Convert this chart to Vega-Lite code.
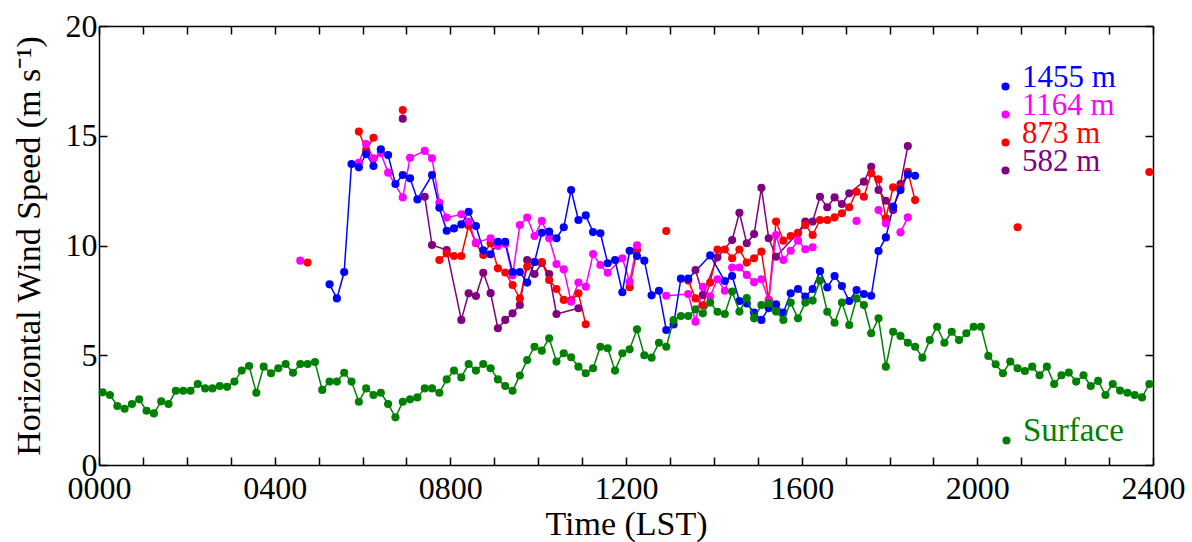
{
"$schema": "https://vega.github.io/schema/vega-lite/v6.json",
"width": 1054, "height": 439,
"autosize": {"type": "none"},
"padding": {"left": 99, "top": 26, "right": 39, "bottom": 77},
"config": {"font": "Liberation Serif", "view": {"stroke": null},
  "axis": {"grid": false, "domainColor": "black", "tickColor": "black", "domainWidth": 1.5, "tickWidth": 1.5, "labelColor": "black", "titleColor": "black", "labelFontSize": 32, "titleFontSize": 34, "titleFontWeight": "normal", "labelFlush": false, "labelOverlap": false, "tickSize": -8}},
"data": {"values": [
{"s":"582 m","t":6.917,"v":15.78,"g":1},
{"s":"582 m","t":7.417,"v":12.22,"g":2},{"s":"582 m","t":7.583,"v":10.02,"g":2},{"s":"582 m","t":7.917,"v":9.79,"g":2},{"s":"582 m","t":8.25,"v":6.61,"g":2},{"s":"582 m","t":8.417,"v":7.82,"g":2},{"s":"582 m","t":8.583,"v":7.70,"g":2},{"s":"582 m","t":8.75,"v":8.76,"g":2},{"s":"582 m","t":8.917,"v":7.83,"g":2},{"s":"582 m","t":9.083,"v":6.23,"g":2},{"s":"582 m","t":9.25,"v":6.61,"g":2},{"s":"582 m","t":9.417,"v":6.91,"g":2},{"s":"582 m","t":9.583,"v":7.29,"g":2},{"s":"582 m","t":9.75,"v":9.34,"g":2},{"s":"582 m","t":9.917,"v":8.70,"g":2},{"s":"582 m","t":10.083,"v":9.20,"g":2},{"s":"582 m","t":10.25,"v":8.70,"g":2},{"s":"582 m","t":10.417,"v":6.88,"g":2},{"s":"582 m","t":10.917,"v":7.14,"g":2},
{"s":"582 m","t":13.583,"v":8.88,"g":3},{"s":"582 m","t":13.75,"v":7.74,"g":3},{"s":"582 m","t":14.083,"v":9.46,"g":3},{"s":"582 m","t":14.417,"v":10.25,"g":3},{"s":"582 m","t":14.583,"v":11.49,"g":3},{"s":"582 m","t":14.75,"v":10.10,"g":3},{"s":"582 m","t":14.917,"v":10.52,"g":3},{"s":"582 m","t":15.083,"v":12.63,"g":3},{"s":"582 m","t":15.25,"v":10.33,"g":3},{"s":"582 m","t":15.417,"v":9.49,"g":3},{"s":"582 m","t":15.917,"v":10.58,"g":3},{"s":"582 m","t":16.083,"v":11.09,"g":3},{"s":"582 m","t":16.25,"v":11.09,"g":3},{"s":"582 m","t":16.417,"v":12.22,"g":3},{"s":"582 m","t":16.583,"v":11.74,"g":3},{"s":"582 m","t":16.75,"v":12.19,"g":3},{"s":"582 m","t":16.917,"v":11.89,"g":3},{"s":"582 m","t":17.083,"v":12.38,"g":3},{"s":"582 m","t":17.417,"v":12.91,"g":3},{"s":"582 m","t":17.583,"v":13.59,"g":3},{"s":"582 m","t":17.75,"v":12.53,"g":3},{"s":"582 m","t":17.917,"v":12.04,"g":3},{"s":"582 m","t":18.083,"v":11.62,"g":3},{"s":"582 m","t":18.25,"v":12.80,"g":3},{"s":"582 m","t":18.417,"v":14.53,"g":3},
{"s":"873 m","t":4.75,"v":9.22,"g":1},
{"s":"873 m","t":5.917,"v":15.19,"g":2},{"s":"873 m","t":6.083,"v":14.35,"g":2},{"s":"873 m","t":6.25,"v":14.91,"g":2},
{"s":"873 m","t":6.917,"v":16.17,"g":3},
{"s":"873 m","t":7.75,"v":9.34,"g":4},{"s":"873 m","t":7.917,"v":9.64,"g":4},{"s":"873 m","t":8.083,"v":9.52,"g":4},{"s":"873 m","t":8.25,"v":9.52,"g":4},{"s":"873 m","t":8.417,"v":10.9,"g":4},{"s":"873 m","t":8.583,"v":10.10,"g":4},{"s":"873 m","t":8.75,"v":9.57,"g":4},{"s":"873 m","t":8.917,"v":10.10,"g":4},{"s":"873 m","t":9.083,"v":8.96,"g":4},{"s":"873 m","t":9.25,"v":8.77,"g":4},{"s":"873 m","t":9.417,"v":8.20,"g":4},{"s":"873 m","t":9.583,"v":7.59,"g":4},{"s":"873 m","t":9.75,"v":9.04,"g":4},{"s":"873 m","t":9.917,"v":9.25,"g":4},{"s":"873 m","t":10.083,"v":9.25,"g":4},{"s":"873 m","t":10.25,"v":8.43,"g":4},{"s":"873 m","t":10.417,"v":8.02,"g":4},{"s":"873 m","t":10.583,"v":7.52,"g":4},{"s":"873 m","t":10.75,"v":7.50,"g":4},{"s":"873 m","t":10.917,"v":7.82,"g":4},{"s":"873 m","t":11.083,"v":6.41,"g":4},
{"s":"873 m","t":12.083,"v":8.10,"g":5},{"s":"873 m","t":12.25,"v":9.79,"g":5},
{"s":"873 m","t":12.917,"v":10.66,"g":6},
{"s":"873 m","t":13.417,"v":8.40,"g":7},{"s":"873 m","t":13.583,"v":7.59,"g":7},{"s":"873 m","t":13.75,"v":7.28,"g":7},{"s":"873 m","t":13.917,"v":8.31,"g":7},{"s":"873 m","t":14.083,"v":9.82,"g":7},{"s":"873 m","t":14.25,"v":9.82,"g":7},{"s":"873 m","t":14.417,"v":9.42,"g":7},{"s":"873 m","t":14.583,"v":9.82,"g":7},{"s":"873 m","t":14.75,"v":9.22,"g":7},{"s":"873 m","t":14.917,"v":9.42,"g":7},{"s":"873 m","t":15.083,"v":9.72,"g":7},{"s":"873 m","t":15.25,"v":7.52,"g":7},{"s":"873 m","t":15.417,"v":11.09,"g":7},{"s":"873 m","t":15.583,"v":10.22,"g":7},{"s":"873 m","t":15.75,"v":10.43,"g":7},{"s":"873 m","t":15.917,"v":10.56,"g":7},{"s":"873 m","t":16.083,"v":10.93,"g":7},{"s":"873 m","t":16.25,"v":10.48,"g":7},{"s":"873 m","t":16.417,"v":11.16,"g":7},{"s":"873 m","t":16.583,"v":11.16,"g":7},{"s":"873 m","t":16.75,"v":11.28,"g":7},{"s":"873 m","t":16.917,"v":11.47,"g":7},{"s":"873 m","t":17.083,"v":11.74,"g":7},{"s":"873 m","t":17.25,"v":12.45,"g":7},{"s":"873 m","t":17.417,"v":12.22,"g":7},{"s":"873 m","t":17.583,"v":13.29,"g":7},{"s":"873 m","t":17.75,"v":13.01,"g":7},{"s":"873 m","t":17.917,"v":11.24,"g":7},{"s":"873 m","t":18.083,"v":12.65,"g":7},{"s":"873 m","t":18.25,"v":12.65,"g":7},{"s":"873 m","t":18.417,"v":13.36,"g":7},{"s":"873 m","t":18.583,"v":12.07,"g":7},
{"s":"873 m","t":20.917,"v":10.83,"g":8},
{"s":"873 m","t":23.917,"v":13.35,"g":9},
{"s":"1164 m","t":4.583,"v":9.31,"g":1},
{"s":"1164 m","t":5.917,"v":13.77,"g":2},{"s":"1164 m","t":6.083,"v":14.62,"g":2},{"s":"1164 m","t":6.25,"v":13.97,"g":2},{"s":"1164 m","t":6.417,"v":14.2,"g":2},{"s":"1164 m","t":6.583,"v":13.32,"g":2},{"s":"1164 m","t":6.917,"v":12.19,"g":2},{"s":"1164 m","t":7.083,"v":14.0,"g":2},{"s":"1164 m","t":7.417,"v":14.31,"g":2},{"s":"1164 m","t":7.583,"v":13.97,"g":2},{"s":"1164 m","t":7.75,"v":11.95,"g":2},{"s":"1164 m","t":7.917,"v":11.27,"g":2},{"s":"1164 m","t":8.25,"v":11.42,"g":2},{"s":"1164 m","t":8.417,"v":11.09,"g":2},{"s":"1164 m","t":8.583,"v":10.13,"g":2},{"s":"1164 m","t":8.917,"v":10.33,"g":2},{"s":"1164 m","t":9.083,"v":9.98,"g":2},{"s":"1164 m","t":9.25,"v":10.07,"g":2},{"s":"1164 m","t":9.417,"v":8.64,"g":2},{"s":"1164 m","t":9.583,"v":10.93,"g":2},{"s":"1164 m","t":9.75,"v":11.27,"g":2},{"s":"1164 m","t":9.917,"v":10.43,"g":2},{"s":"1164 m","t":10.083,"v":11.12,"g":2},{"s":"1164 m","t":10.25,"v":10.33,"g":2},{"s":"1164 m","t":10.417,"v":9.16,"g":2},{"s":"1164 m","t":10.583,"v":8.91,"g":2},{"s":"1164 m","t":10.75,"v":7.44,"g":2},{"s":"1164 m","t":10.917,"v":8.31,"g":2},{"s":"1164 m","t":11.083,"v":8.12,"g":2},{"s":"1164 m","t":11.25,"v":9.61,"g":2},{"s":"1164 m","t":11.417,"v":9.11,"g":2},{"s":"1164 m","t":11.583,"v":8.76,"g":2},{"s":"1164 m","t":11.917,"v":9.42,"g":2},{"s":"1164 m","t":12.083,"v":8.35,"g":2},{"s":"1164 m","t":12.25,"v":10.01,"g":2},
{"s":"1164 m","t":12.917,"v":7.71,"g":3},{"s":"1164 m","t":13.417,"v":7.79,"g":3},{"s":"1164 m","t":13.583,"v":6.53,"g":3},{"s":"1164 m","t":13.75,"v":8.12,"g":3},{"s":"1164 m","t":13.917,"v":7.69,"g":3},{"s":"1164 m","t":14.083,"v":8.46,"g":3},{"s":"1164 m","t":14.25,"v":7.94,"g":3},{"s":"1164 m","t":14.417,"v":9.0,"g":3},{"s":"1164 m","t":14.583,"v":9.0,"g":3},{"s":"1164 m","t":14.75,"v":8.66,"g":3},{"s":"1164 m","t":14.917,"v":8.33,"g":3},{"s":"1164 m","t":15.083,"v":8.46,"g":3},{"s":"1164 m","t":15.25,"v":7.49,"g":3},{"s":"1164 m","t":15.417,"v":10.48,"g":3},{"s":"1164 m","t":15.583,"v":9.34,"g":3},{"s":"1164 m","t":15.75,"v":9.76,"g":3},{"s":"1164 m","t":15.917,"v":10.22,"g":3},{"s":"1164 m","t":16.083,"v":9.83,"g":3},{"s":"1164 m","t":16.25,"v":9.92,"g":3},
{"s":"1164 m","t":17.25,"v":11.12,"g":4},
{"s":"1164 m","t":17.75,"v":11.62,"g":5},{"s":"1164 m","t":17.917,"v":11.01,"g":5},
{"s":"1164 m","t":18.25,"v":10.6,"g":6},{"s":"1164 m","t":18.417,"v":11.28,"g":6},
{"s":"1455 m","t":5.25,"v":8.23,"g":1},{"s":"1455 m","t":5.417,"v":7.59,"g":1},{"s":"1455 m","t":5.583,"v":8.79,"g":1},{"s":"1455 m","t":5.75,"v":13.71,"g":1},{"s":"1455 m","t":5.917,"v":13.56,"g":1},{"s":"1455 m","t":6.083,"v":14.17,"g":1},{"s":"1455 m","t":6.25,"v":13.62,"g":1},{"s":"1455 m","t":6.417,"v":14.38,"g":1},{"s":"1455 m","t":6.583,"v":14.12,"g":1},{"s":"1455 m","t":6.75,"v":12.80,"g":1},{"s":"1455 m","t":6.917,"v":13.21,"g":1},{"s":"1455 m","t":7.083,"v":13.06,"g":1},{"s":"1455 m","t":7.25,"v":12.10,"g":1},{"s":"1455 m","t":7.583,"v":13.21,"g":1},{"s":"1455 m","t":7.75,"v":11.72,"g":1},{"s":"1455 m","t":7.917,"v":10.67,"g":1},{"s":"1455 m","t":8.083,"v":10.78,"g":1},{"s":"1455 m","t":8.25,"v":10.96,"g":1},{"s":"1455 m","t":8.417,"v":11.54,"g":1},{"s":"1455 m","t":8.583,"v":10.89,"g":1},{"s":"1455 m","t":8.75,"v":9.78,"g":1},{"s":"1455 m","t":8.917,"v":9.60,"g":1},{"s":"1455 m","t":9.083,"v":10.17,"g":1},{"s":"1455 m","t":9.25,"v":10.17,"g":1},{"s":"1455 m","t":9.417,"v":8.79,"g":1},{"s":"1455 m","t":9.583,"v":8.79,"g":1},{"s":"1455 m","t":9.75,"v":8.31,"g":1},{"s":"1455 m","t":9.917,"v":9.25,"g":1},{"s":"1455 m","t":10.083,"v":10.58,"g":1},{"s":"1455 m","t":10.25,"v":10.63,"g":1},{"s":"1455 m","t":10.417,"v":10.33,"g":1},{"s":"1455 m","t":10.583,"v":10.83,"g":1},{"s":"1455 m","t":10.75,"v":12.53,"g":1},{"s":"1455 m","t":10.917,"v":11.16,"g":1},{"s":"1455 m","t":11.083,"v":11.37,"g":1},{"s":"1455 m","t":11.25,"v":10.61,"g":1},{"s":"1455 m","t":11.417,"v":10.56,"g":1},{"s":"1455 m","t":11.583,"v":9.19,"g":1},{"s":"1455 m","t":11.75,"v":9.34,"g":1},{"s":"1455 m","t":11.917,"v":7.87,"g":1},{"s":"1455 m","t":12.083,"v":9.76,"g":1},{"s":"1455 m","t":12.25,"v":9.52,"g":1},{"s":"1455 m","t":12.417,"v":9.31,"g":1},{"s":"1455 m","t":12.583,"v":7.73,"g":1},{"s":"1455 m","t":12.75,"v":7.94,"g":1},{"s":"1455 m","t":12.917,"v":6.15,"g":1},{"s":"1455 m","t":13.083,"v":6.40,"g":1},{"s":"1455 m","t":13.25,"v":8.49,"g":1},{"s":"1455 m","t":13.417,"v":8.49,"g":1},{"s":"1455 m","t":13.917,"v":9.55,"g":1},{"s":"1455 m","t":14.25,"v":8.38,"g":1},{"s":"1455 m","t":14.417,"v":8.61,"g":1},{"s":"1455 m","t":14.583,"v":7.47,"g":1},{"s":"1455 m","t":14.75,"v":7.36,"g":1},{"s":"1455 m","t":14.917,"v":6.94,"g":1},{"s":"1455 m","t":15.083,"v":6.61,"g":1},{"s":"1455 m","t":15.25,"v":7.14,"g":1},{"s":"1455 m","t":15.417,"v":7.32,"g":1},{"s":"1455 m","t":15.583,"v":6.94,"g":1},{"s":"1455 m","t":15.75,"v":7.82,"g":1},{"s":"1455 m","t":15.917,"v":8.02,"g":1},{"s":"1455 m","t":16.083,"v":7.67,"g":1},{"s":"1455 m","t":16.25,"v":8.02,"g":1},{"s":"1455 m","t":16.417,"v":8.83,"g":1},{"s":"1455 m","t":16.583,"v":8.09,"g":1},{"s":"1455 m","t":16.75,"v":8.61,"g":1},{"s":"1455 m","t":16.917,"v":8.15,"g":1},{"s":"1455 m","t":17.083,"v":7.47,"g":1},{"s":"1455 m","t":17.25,"v":7.97,"g":1},{"s":"1455 m","t":17.417,"v":7.79,"g":1},{"s":"1455 m","t":17.583,"v":7.71,"g":1},{"s":"1455 m","t":17.75,"v":9.75,"g":1},{"s":"1455 m","t":17.917,"v":10.37,"g":1},{"s":"1455 m","t":18.083,"v":11.77,"g":1},{"s":"1455 m","t":18.25,"v":12.53,"g":1},{"s":"1455 m","t":18.417,"v":13.24,"g":1},{"s":"1455 m","t":18.583,"v":13.18,"g":1},
{"s":"Surface","t":0.083,"v":3.31,"g":0},{"s":"Surface","t":0.25,"v":3.19,"g":0},{"s":"Surface","t":0.417,"v":2.69,"g":0},{"s":"Surface","t":0.583,"v":2.56,"g":0},{"s":"Surface","t":0.75,"v":2.78,"g":0},{"s":"Surface","t":0.917,"v":2.99,"g":0},
{"s":"Surface","t":1.083,"v":2.47,"g":0},{"s":"Surface","t":1.25,"v":2.35,"g":0},{"s":"Surface","t":1.417,"v":2.90,"g":0},{"s":"Surface","t":1.583,"v":2.78,"g":0},{"s":"Surface","t":1.75,"v":3.38,"g":0},{"s":"Surface","t":1.917,"v":3.38,"g":0},
{"s":"Surface","t":2.083,"v":3.38,"g":0},{"s":"Surface","t":2.25,"v":3.69,"g":0},{"s":"Surface","t":2.417,"v":3.49,"g":0},{"s":"Surface","t":2.583,"v":3.49,"g":0},{"s":"Surface","t":2.75,"v":3.60,"g":0},{"s":"Surface","t":2.917,"v":3.56,"g":0},
{"s":"Surface","t":3.083,"v":3.80,"g":0},{"s":"Surface","t":3.25,"v":4.30,"g":0},{"s":"Surface","t":3.417,"v":4.51,"g":0},{"s":"Surface","t":3.583,"v":3.29,"g":0},{"s":"Surface","t":3.75,"v":4.48,"g":0},{"s":"Surface","t":3.917,"v":4.18,"g":0},
{"s":"Surface","t":4.083,"v":4.41,"g":0},{"s":"Surface","t":4.25,"v":4.60,"g":0},{"s":"Surface","t":4.417,"v":4.20,"g":0},{"s":"Surface","t":4.583,"v":4.60,"g":0},{"s":"Surface","t":4.75,"v":4.60,"g":0},{"s":"Surface","t":4.917,"v":4.69,"g":0},
{"s":"Surface","t":5.083,"v":3.42,"g":0},{"s":"Surface","t":5.25,"v":3.80,"g":0},{"s":"Surface","t":5.417,"v":3.80,"g":0},{"s":"Surface","t":5.583,"v":4.20,"g":0},{"s":"Surface","t":5.75,"v":3.80,"g":0},{"s":"Surface","t":5.917,"v":2.88,"g":0},
{"s":"Surface","t":6.083,"v":3.49,"g":0},{"s":"Surface","t":6.25,"v":3.19,"g":0},{"s":"Surface","t":6.417,"v":3.29,"g":0},{"s":"Surface","t":6.583,"v":2.78,"g":0},{"s":"Surface","t":6.75,"v":2.17,"g":0},{"s":"Surface","t":6.917,"v":2.88,"g":0},
{"s":"Surface","t":7.083,"v":2.99,"g":0},{"s":"Surface","t":7.25,"v":3.08,"g":0},{"s":"Surface","t":7.417,"v":3.49,"g":0},{"s":"Surface","t":7.583,"v":3.49,"g":0},{"s":"Surface","t":7.75,"v":3.29,"g":0},{"s":"Surface","t":7.917,"v":3.90,"g":0},
{"s":"Surface","t":8.083,"v":4.30,"g":0},{"s":"Surface","t":8.25,"v":3.99,"g":0},{"s":"Surface","t":8.417,"v":4.60,"g":0},{"s":"Surface","t":8.583,"v":4.30,"g":0},{"s":"Surface","t":8.75,"v":4.60,"g":0},{"s":"Surface","t":8.917,"v":4.41,"g":0},
{"s":"Surface","t":9.083,"v":3.90,"g":0},{"s":"Surface","t":9.25,"v":3.60,"g":0},{"s":"Surface","t":9.417,"v":3.38,"g":0},{"s":"Surface","t":9.583,"v":4.08,"g":0},{"s":"Surface","t":9.75,"v":4.78,"g":0},{"s":"Surface","t":9.917,"v":5.39,"g":0},
{"s":"Surface","t":10.083,"v":5.21,"g":0},{"s":"Surface","t":10.25,"v":5.77,"g":0},{"s":"Surface","t":10.417,"v":4.71,"g":0},{"s":"Surface","t":10.583,"v":5.09,"g":0},{"s":"Surface","t":10.75,"v":4.91,"g":0},{"s":"Surface","t":10.917,"v":4.48,"g":0},
{"s":"Surface","t":11.083,"v":4.18,"g":0},{"s":"Surface","t":11.25,"v":4.41,"g":0},{"s":"Surface","t":11.417,"v":5.39,"g":0},{"s":"Surface","t":11.583,"v":5.32,"g":0},{"s":"Surface","t":11.75,"v":4.30,"g":0},{"s":"Surface","t":11.917,"v":5.09,"g":0},
{"s":"Surface","t":12.083,"v":5.27,"g":0},{"s":"Surface","t":12.25,"v":6.18,"g":0},{"s":"Surface","t":12.417,"v":5.00,"g":0},{"s":"Surface","t":12.583,"v":4.89,"g":0},{"s":"Surface","t":12.75,"v":5.57,"g":0},{"s":"Surface","t":12.917,"v":5.39,"g":0},
{"s":"Surface","t":13.083,"v":6.60,"g":0},{"s":"Surface","t":13.25,"v":6.79,"g":0},{"s":"Surface","t":13.417,"v":6.79,"g":0},{"s":"Surface","t":13.583,"v":7.09,"g":0},{"s":"Surface","t":13.75,"v":6.91,"g":0},{"s":"Surface","t":13.917,"v":7.40,"g":0},
{"s":"Surface","t":14.083,"v":6.98,"g":0},{"s":"Surface","t":14.25,"v":6.88,"g":0},{"s":"Surface","t":14.417,"v":7.90,"g":0},{"s":"Surface","t":14.583,"v":6.99,"g":0},{"s":"Surface","t":14.75,"v":7.61,"g":0},{"s":"Surface","t":14.917,"v":6.68,"g":0},
{"s":"Surface","t":15.083,"v":7.29,"g":0},{"s":"Surface","t":15.25,"v":7.37,"g":0},{"s":"Surface","t":15.417,"v":6.99,"g":0},{"s":"Surface","t":15.583,"v":6.61,"g":0},{"s":"Surface","t":15.75,"v":7.40,"g":0},{"s":"Surface","t":15.917,"v":6.68,"g":0},
{"s":"Surface","t":16.083,"v":7.40,"g":0},{"s":"Surface","t":16.25,"v":7.49,"g":0},{"s":"Surface","t":16.417,"v":8.40,"g":0},{"s":"Surface","t":16.583,"v":6.98,"g":0},{"s":"Surface","t":16.75,"v":6.48,"g":0},{"s":"Surface","t":16.917,"v":7.40,"g":0},
{"s":"Surface","t":17.083,"v":6.38,"g":0},{"s":"Surface","t":17.25,"v":7.59,"g":0},{"s":"Surface","t":17.417,"v":7.29,"g":0},{"s":"Surface","t":17.583,"v":6.00,"g":0},{"s":"Surface","t":17.75,"v":6.68,"g":0},{"s":"Surface","t":17.917,"v":4.48,"g":0},
{"s":"Surface","t":18.083,"v":6.07,"g":0},{"s":"Surface","t":18.25,"v":5.88,"g":0},{"s":"Surface","t":18.417,"v":5.57,"g":0},{"s":"Surface","t":18.583,"v":5.39,"g":0},{"s":"Surface","t":18.75,"v":4.89,"g":0},{"s":"Surface","t":18.917,"v":5.69,"g":0},
{"s":"Surface","t":19.083,"v":6.30,"g":0},{"s":"Surface","t":19.25,"v":5.57,"g":0},{"s":"Surface","t":19.417,"v":6.07,"g":0},{"s":"Surface","t":19.583,"v":5.69,"g":0},{"s":"Surface","t":19.75,"v":6.00,"g":0},{"s":"Surface","t":19.917,"v":6.30,"g":0},
{"s":"Surface","t":20.083,"v":6.30,"g":0},{"s":"Surface","t":20.25,"v":4.97,"g":0},{"s":"Surface","t":20.417,"v":4.59,"g":0},{"s":"Surface","t":20.583,"v":4.18,"g":0},{"s":"Surface","t":20.75,"v":4.71,"g":0},{"s":"Surface","t":20.917,"v":4.41,"g":0},
{"s":"Surface","t":21.083,"v":4.28,"g":0},{"s":"Surface","t":21.25,"v":4.48,"g":0},{"s":"Surface","t":21.417,"v":4.09,"g":0},{"s":"Surface","t":21.583,"v":4.48,"g":0},{"s":"Surface","t":21.75,"v":3.69,"g":0},{"s":"Surface","t":21.917,"v":4.09,"g":0},
{"s":"Surface","t":22.083,"v":4.21,"g":0},{"s":"Surface","t":22.25,"v":3.80,"g":0},{"s":"Surface","t":22.417,"v":4.09,"g":0},{"s":"Surface","t":22.583,"v":3.60,"g":0},{"s":"Surface","t":22.75,"v":3.83,"g":0},{"s":"Surface","t":22.917,"v":3.19,"g":0},
{"s":"Surface","t":23.083,"v":3.69,"g":0},{"s":"Surface","t":23.25,"v":3.39,"g":0},{"s":"Surface","t":23.417,"v":3.29,"g":0},{"s":"Surface","t":23.583,"v":3.19,"g":0},{"s":"Surface","t":23.75,"v":3.08,"g":0},{"s":"Surface","t":23.917,"v":3.69,"g":0}
]},
"layer": [
 {"layer": [
  {"transform": [{"filter": "datum.s != 'Surface'"}],
   "mark": {"type": "line", "strokeWidth": 1.5},
   "encoding": {
    "x": {"field": "t", "type": "quantitative", "scale": {"domain": [0, 24], "nice": false}, "axis": {"values": [0,1,2,3,4,5,6,7,8,9,10,11,12,13,14,15,16,17,18,19,20,21,22,23,24], "labelExpr": "datum.value % 4 == 0 ? (datum.value < 10 ? '0' + datum.value + '00' : datum.value + '00') : ''", "title": "Time (LST)", "labelPadding": 16, "titlePadding": 3}},
    "y": {"field": "v", "type": "quantitative", "scale": {"domain": [0, 20], "nice": false}, "axis": {"values": [0,5,10,15,20], "title": "Horizontal Wind Speed (m s⁻¹)", "labelPadding": 10, "titlePadding": 19}},
    "color": {"field": "s", "type": "nominal", "scale": {"domain": ["1455 m","1164 m","873 m","582 m"], "range": ["#0000ff","#ff00ff","#ff0000","#800080"]}, "legend": {"orient": "none", "legendX": 891, "legendY": 45, "title": null, "padding": 0, "symbolType": "circle", "symbolSize": 66, "symbolStrokeWidth": 0, "labelFontSize": 31, "labelOffset": 1, "labelBaseline": "alphabetic", "rowPadding": -4, "labelColor": {"expr": "datum.value == '1455 m' ? '#0000ff' : datum.value == '1164 m' ? '#ff00ff' : datum.value == '873 m' ? '#ff0000' : '#800080'"}}},
    "detail": {"field": "g"}
   }},
  {"transform": [{"filter": "datum.s != 'Surface'"}],
   "mark": {"type": "circle", "size": 66, "opacity": 1},
   "encoding": {
    "x": {"field": "t", "type": "quantitative"},
    "y": {"field": "v", "type": "quantitative"},
    "color": {"field": "s", "type": "nominal", "legend": {"orient": "none", "legendX": 891, "legendY": 45, "title": null, "padding": 0, "symbolType": "circle", "symbolSize": 66, "symbolStrokeWidth": 0, "labelFontSize": 31, "labelOffset": 1, "labelBaseline": "alphabetic", "rowPadding": -4, "labelColor": {"expr": "datum.value == '1455 m' ? '#0000ff' : datum.value == '1164 m' ? '#ff00ff' : datum.value == '873 m' ? '#ff0000' : '#800080'"}}}
   }},
  {"transform": [{"filter": "datum.s == 'Surface'"}],
   "mark": {"type": "line", "strokeWidth": 1.5, "color": "#008000"},
   "encoding": {
    "x": {"field": "t", "type": "quantitative"},
    "y": {"field": "v", "type": "quantitative"}
   }},
  {"transform": [{"filter": "datum.s == 'Surface'"}],
   "mark": {"type": "circle", "size": 66, "opacity": 1},
   "encoding": {
    "x": {"field": "t", "type": "quantitative"},
    "y": {"field": "v", "type": "quantitative"},
    "fill": {"field": "s", "type": "nominal", "scale": {"domain": ["Surface"], "range": ["#008000"]}, "legend": {"orient": "none", "legendX": 891, "legendY": 398, "title": null, "padding": 0, "symbolType": "circle", "symbolSize": 66, "symbolStrokeWidth": 0, "labelFontSize": 33, "labelOffset": 0, "labelBaseline": "alphabetic", "labelColor": "#008000"}}
   }}
 ]},
 {"transform": [{"filter": "datum.s == 'Surface'"}],
  "mark": {"type": "point", "opacity": 0},
  "encoding": {
   "x": {"field": "t", "type": "quantitative", "axis": {"orient": "top", "values": [0,1,2,3,4,5,6,7,8,9,10,11,12,13,14,15,16,17,18,19,20,21,22,23,24], "labels": false, "title": null}},
   "y": {"field": "v", "type": "quantitative", "axis": {"orient": "right", "values": [0,5,10,15,20], "labels": false, "title": null}}
  }}
],
"resolve": {"axis": {"x": "independent", "y": "independent"}}
}
